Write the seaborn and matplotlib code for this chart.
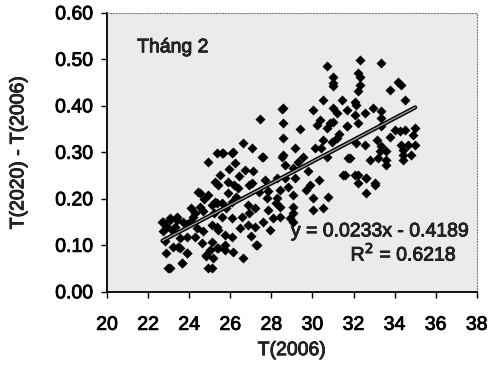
import numpy as np
import pandas as pd
import matplotlib
matplotlib.use("Agg")
import matplotlib.pyplot as plt
import matplotlib.patheffects as pe
import seaborn as sns

# Data: T(2006) and T(2020) - T(2006)
t2006 = [
    25.34, 24.93, 25.25, 24.52, 24.93, 24.52, 25.09, 25.34, 24.28, 24.68,
    22.74, 23.06, 23.39, 23.71, 24.04, 25.09, 25.34, 24.36, 24.68, 22.74,
    23.14, 23.55, 23.87, 24.28, 25.09, 23.23, 23.55, 25.00, 25.34, 23.87,
    24.84, 25.17, 22.98, 23.63, 25.09,
    26.63, 27.04, 25.58, 26.07, 27.52, 26.23, 26.71, 25.50, 25.90, 27.69,
    28.25, 27.04, 25.41, 25.90, 26.39, 27.85, 28.41, 27.77, 28.25, 25.25,
    25.58, 26.07, 26.87, 27.20, 27.85, 28.41, 25.58, 26.07, 26.55, 28.09,
    28.41, 26.87, 27.20, 26.47, 25.41, 25.74, 26.07, 27.93, 27.28, 25.41,
    25.74, 26.63,
    30.69, 31.00, 31.00, 31.00, 30.52, 31.42, 28.58, 30.04, 31.00, 31.17,
    30.36, 30.85, 31.00, 31.66, 30.20, 30.69, 28.58, 28.58, 30.52, 30.93,
    29.14, 29.55, 28.58, 30.12, 30.69, 31.74, 28.66, 29.06, 31.50, 28.66,
    29.14, 28.82, 29.06, 30.04, 30.77, 29.06, 30.04, 28.90, 29.06,
    32.31, 33.36, 32.22, 32.31, 34.17, 34.33, 32.31, 33.77, 32.22, 34.50,
    32.06, 32.14, 32.95, 31.66, 33.36, 32.06, 32.55, 33.36, 32.22, 31.66,
    34.01, 34.25, 34.50, 33.36, 34.98, 34.90, 33.77, 33.12, 32.14, 32.55,
    34.33, 34.66, 34.98, 33.36, 33.28, 33.60, 34.41, 34.41, 34.41, 34.82,
    31.82, 32.79, 33.20, 33.60, 33.60, 31.58, 32.22, 32.63, 33.04, 32.63,
    30.52, 32.06, 32.63, 33.04, 32.22, 29.06,
    22.66, 23.06, 23.39, 22.90, 24.44, 22.87, 23.06, 23.63, 23.87, 23.47,
    24.93, 24.84, 25.74, 26.11, 27.25, 27.43, 28.53, 25.63, 26.14, 27.57,
    28.54, 26.90, 27.60, 29.80, 29.40, 31.20, 29.70, 30.30, 24.10, 26.40,
    24.20, 24.70, 25.80, 26.30, 26.90, 27.40, 27.10, 25.95, 24.60, 23.30,
    29.30, 29.90, 30.40, 31.30, 28.20, 27.00, 26.20, 25.20, 23.90, 22.80,
]
dt = [
    0.298, 0.280, 0.237, 0.212, 0.209, 0.183, 0.187, 0.191, 0.169, 0.173,
    0.151, 0.158, 0.155, 0.151, 0.151, 0.144, 0.140, 0.137, 0.130, 0.130,
    0.133, 0.115, 0.119, 0.119, 0.108, 0.097, 0.094, 0.090, 0.094, 0.083,
    0.076, 0.072, 0.051, 0.062, 0.051,
    0.320, 0.309, 0.298, 0.298, 0.291, 0.277, 0.262, 0.252, 0.237, 0.241,
    0.245, 0.234, 0.230, 0.212, 0.223, 0.216, 0.219, 0.201, 0.201, 0.194,
    0.191, 0.194, 0.187, 0.180, 0.176, 0.183, 0.162, 0.158, 0.162, 0.158,
    0.162, 0.144, 0.140, 0.137, 0.133, 0.123, 0.119, 0.133, 0.101, 0.094,
    0.090, 0.072,
    0.485, 0.463, 0.449, 0.442, 0.413, 0.413, 0.395, 0.391, 0.395, 0.384,
    0.370, 0.363, 0.366, 0.356, 0.359, 0.352, 0.363, 0.330, 0.327, 0.323,
    0.309, 0.291, 0.295, 0.309, 0.291, 0.288, 0.273, 0.266, 0.252, 0.245,
    0.245, 0.226, 0.209, 0.201, 0.205, 0.183, 0.176, 0.158, 0.151,
    0.499, 0.492, 0.470, 0.463, 0.452, 0.445, 0.445, 0.434, 0.431, 0.413,
    0.409, 0.402, 0.395, 0.391, 0.388, 0.381, 0.384, 0.373, 0.363, 0.356,
    0.348, 0.345, 0.348, 0.356, 0.352, 0.338, 0.334, 0.327, 0.320, 0.316,
    0.316, 0.316, 0.316, 0.313, 0.302, 0.302, 0.305, 0.295, 0.284, 0.295,
    0.288, 0.284, 0.288, 0.284, 0.273, 0.252, 0.252, 0.245, 0.230, 0.212,
    0.180, 0.252, 0.245, 0.234, 0.234, 0.169,
    0.151, 0.155, 0.162, 0.140, 0.214, 0.083, 0.051, 0.062, 0.083, 0.097,
    0.051, 0.080, 0.101, 0.085, 0.100, 0.372, 0.394, 0.298, 0.300, 0.291,
    0.290, 0.230, 0.150, 0.260, 0.350, 0.330, 0.220, 0.240, 0.180, 0.250,
    0.160, 0.200, 0.180, 0.205, 0.170, 0.215, 0.260, 0.265, 0.105, 0.140,
    0.280, 0.230, 0.310, 0.340, 0.190, 0.120, 0.230, 0.170, 0.145, 0.110,
]

# Trend line from the printed equation
slope, intercept = 0.0233, -0.4189
line_x = [22.7, 35.0]
line_y = [slope * v + intercept for v in line_x]

x_ticks = [20, 22, 24, 26, 28, 30, 32, 34, 36, 38]
y_ticks = [0.0, 0.1, 0.2, 0.3, 0.4, 0.5, 0.6]

df = pd.DataFrame({"T(2006)": t2006, "dT": dt})

sns.set_theme(style="white")
plt.rcParams["font.family"] = ["Liberation Sans", "DejaVu Sans"]

FS = 14
heavy = [pe.withStroke(linewidth=0.6, foreground="black")]

fig = plt.figure(figsize=(4.89, 3.68), dpi=100)
ax = fig.add_axes([0.219, 0.207, 0.756, 0.758])
ax.set_facecolor("#ebebeb")

sns.scatterplot(data=df, x="T(2006)", y="dT", marker="D", s=26,
                color="black", edgecolor="black", linewidth=0, ax=ax, zorder=3)
sns.lineplot(x=line_x, y=line_y, color="black", linewidth=3.0, ax=ax, zorder=4)
sns.lineplot(x=line_x, y=line_y, color="#9a9a9a", linewidth=1.0, ax=ax, zorder=5)

ax.set_xlim(20, 38)
ax.set_ylim(0, 0.6)
ax.set_xticks(x_ticks)
ax.set_yticks(y_ticks)
ax.set_xticklabels([str(v) for v in x_ticks])
ax.set_yticklabels([f"{v:.2f}" for v in y_ticks])
ax.tick_params(axis="both", direction="out", length=4, width=1, colors="black",
               labelsize=FS)
ax.tick_params(axis="y", pad=6)
ax.tick_params(axis="x", pad=14)
for lbl in ax.get_xticklabels() + ax.get_yticklabels():
    lbl.set_path_effects(heavy)
for side in ["left", "bottom"]:
    ax.spines[side].set_color("black")
    ax.spines[side].set_linewidth(1.3)
for side in ["top", "right"]:
    ax.spines[side].set_color("#808080")
    ax.spines[side].set_linewidth(0.8)
    ax.spines[side].set_linestyle(":")
ax.xaxis.set_ticks_position("bottom")
ax.yaxis.set_ticks_position("left")

ax.set_xlabel("T(2006)", fontsize=FS, labelpad=6, path_effects=heavy)
ax.set_ylabel("T(2020) - T(2006)", fontsize=FS, labelpad=20, path_effects=heavy)

ax.text(21.46, 0.525, "Tháng 2", fontsize=FS, ha="left", va="center",
        path_effects=heavy)
ax.text(28.95, 0.129, "y = 0.0233x - 0.4189", fontsize=FS, ha="left",
        va="center", path_effects=heavy)
ax.text(34.45, 0.082, "R$^2$ = 0.6218", fontsize=FS, ha="center", va="center",
        path_effects=heavy)

fig.savefig("out.png", dpi=100)
